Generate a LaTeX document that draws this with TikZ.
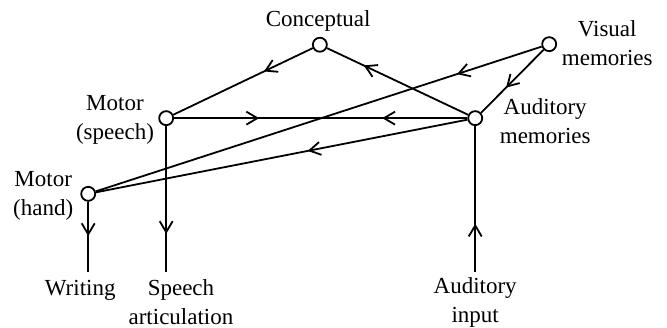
\documentclass[tikz,border=0pt]{standalone}
\usepackage{fontspec}
\setmainfont{Liberation Serif}
\usetikzlibrary{arrows.meta, positioning, decorations.markings}
\tikzset{
  hub/.style={draw, circle, fill=white, minimum size=7pt, inner sep=0pt, line width=0.9pt},
  lbl/.style={align=center, inner sep=1pt, font=\fontsize{11.5}{14.5}\selectfont},
  flow/.style={line width=0.9pt, postaction={decorate},
    decoration={markings, mark=at position #1 with {\arrow{Straight Barb[length=5.5pt, width=6.5pt, line width=0.9pt]}}}},
}
\begin{document}
\begin{tikzpicture}
  \useasboundingbox (0,0) rectangle (11.72,5.746);
  % hubs
  \node[hub] (conc) at (5.62,4.96) {};
  \node[hub] (vis)  at (9.65,4.97) {};
  \node[hub] (aud)  at (8.35,3.67) {};
  \node[hub] (msp)  at (2.92,3.67) {};
  \node[hub] (mhd)  at (1.55,2.34) {};
  \coordinate (wend) at (1.55,0.97);
  \coordinate (send) at (2.92,0.97);
  \coordinate (iend) at (8.35,0.97);
  % labels
  \node[lbl] (concL) at (5.59,5.37) {Conceptual};
  \node[lbl] (visL)  at (10.67,4.99) {Visual\\memories};
  \node[lbl] (audL)  at (9.58,3.62) {Auditory\\memories};
  \node[lbl] (mspL)  at (2.02,3.64) {Motor\\(speech)};
  \node[lbl] (mhdL)  at (0.76,2.30) {Motor\\(hand)};
  \node[lbl] (wrL)   at (1.41,0.64) {Writing};
  \node[lbl] (spL)   at (3.18,0.44) {Speech\\articulation};
  \node[lbl] (inL)   at (8.35,0.44) {Auditory\\input};
  % connections
  \draw[flow=0.35] (conc) -- (msp);
  \draw[flow=0.74] (aud) -- (conc);
  \draw[flow=0.29] (msp) -- (aud);
  \draw[flow=0.29] (aud) -- (msp);
  \draw[flow=0.19] (vis) -- (mhd);
  \draw[flow=0.60] (vis) -- (aud);
  \draw[flow=0.43] (aud) -- (mhd);
  \draw[flow=0.49] (mhd) -- (wend);
  \draw[flow=0.74] (msp) -- (send);
  \draw[flow=0.33] (iend) -- (aud);
\end{tikzpicture}
\end{document}
